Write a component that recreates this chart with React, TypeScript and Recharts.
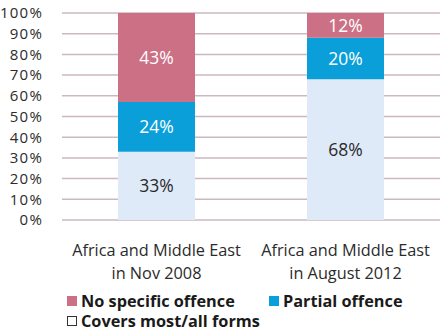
import { BarChart, Bar, XAxis, YAxis, CartesianGrid, LabelList } from 'recharts';

const categories = ['Africa and Middle East|in Nov 2008', 'Africa and Middle East|in August 2012'];
const coversMost = [33, 68];
const partial = [24, 20];
const noSpecific = [43, 12];
const yTicks = [0, 10, 20, 30, 40, 50, 60, 70, 80, 90, 100];

const data = categories.map((name, i) => ({
    name,
    covers: coversMost[i],
    partial: partial[i],
    none: noSpecific[i],
}));

const FONT = '"Open Sans", sans-serif';

// two-line category labels
const CategoryTick = ({ x, y, payload }: any) => {
    const lines = String(payload.value).split('|');
    return (
        <g transform={`translate(${x},${y})`}>
            {lines.map((l, i) => (
                <text key={i} x={0} y={i * 23 + 28} textAnchor="middle" fill="#2b2b2b" fontSize={16.3} fontFamily={FONT}>
                    {l}
                </text>
            ))}
        </g>
    );
};

const LegendItem = ({ color, label, outline, left, top }: any) => (
    <div style={{ position: 'absolute', left, top, display: 'flex', alignItems: 'center' }}>
        <span
            style={{
                width: outline ? 8 : 10,
                height: outline ? 8 : 10,
                background: color,
                border: outline ? '1px solid #333' : 'none',
                marginRight: 4,
                display: 'inline-block',
            }}
        />
        <span style={{ fontFamily: FONT, fontWeight: 700, fontSize: 16.3, color: '#1a1a1a', lineHeight: '20px' }}>
            {label}
        </span>
    </div>
);

export default function App() {
    return (
        <div style={{ position: 'absolute', left: 0, top: 0, width: 448, height: 334, background: '#fff' }}>
            <BarChart width={448} height={334} data={data} margin={{ top: 13, right: 8, left: 0, bottom: 54 }}>
                <CartesianGrid horizontal vertical={false} stroke="#cdb7c0" strokeWidth={1.5} />
                <XAxis dataKey="name" height={60} axisLine={false} tickLine={false} tick={<CategoryTick />} interval={0} />
                <YAxis
                    width={62}
                    domain={[0, 100]}
                    ticks={yTicks}
                    interval={0}
                    axisLine={false}
                    tickLine={false}
                    tickFormatter={(v) => `${v}%`}
                    tick={{ fill: '#2b2b2b', fontSize: 15, fontFamily: FONT, letterSpacing: 1.2 }}
                    tickMargin={13}
                />
                <Bar dataKey="covers" stackId="a" fill="#deeaf8" barSize={77} isAnimationActive={false}>
                    <LabelList dataKey="covers" position="center" formatter={(v: any) => `${v}%`} fill="#2b2b2b" fontSize={17.5} fontFamily={FONT} />
                </Bar>
                <Bar dataKey="partial" stackId="a" fill="#0a9fd9" barSize={77} isAnimationActive={false}>
                    <LabelList dataKey="partial" position="center" formatter={(v: any) => `${v}%`} fill="#fff" fontSize={17.5} fontFamily={FONT} />
                </Bar>
                <Bar dataKey="none" stackId="a" fill="#cc7085" barSize={77} isAnimationActive={false}>
                    <LabelList dataKey="none" position="center" formatter={(v: any) => `${v}%`} fill="#fff" fontSize={17.5} fontFamily={FONT} />
                </Bar>
            </BarChart>
            <LegendItem color="#cc7085" label="No specific offence" left={67} top={291} />
            <LegendItem color="#0a9fd9" label="Partial offence" left={269} top={291} />
            <LegendItem color="#fff" label="Covers most/all forms" outline left={67} top={311} />
        </div>
    );
}
